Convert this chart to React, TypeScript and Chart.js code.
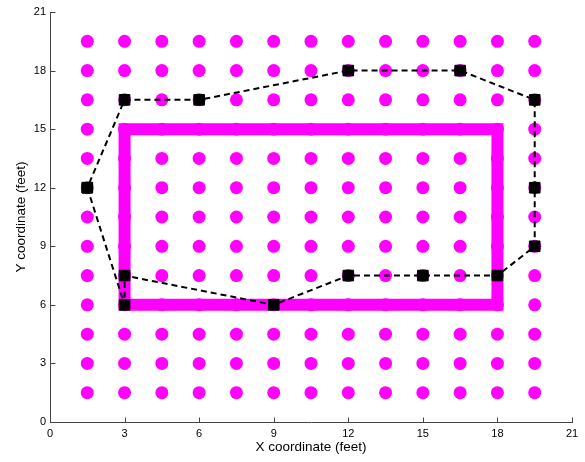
import React, { useEffect, useRef } from "react";
import { Chart, registerables } from "chart.js";

Chart.register(...registerables);

// Sensor grid (magenta dots)
const gridX = [1.5, 3, 4.5, 6, 7.5, 9, 10.5, 12, 13.5, 15, 16.5, 18, 19.5];
const gridY = [1.5, 3, 4.5, 6, 7.5, 9, 10.5, 12, 13.5, 15, 16.5, 18, 19.5];

// Rectangle outline (thick magenta)
const rectX = [3, 18, 18, 3, 3];
const rectY = [6, 6, 15, 15, 6];

// Dashed black boundary with square markers
const pathX = [1.5, 3, 3, 9, 12, 15, 18, 19.5, 19.5, 19.5, 16.5, 12, 6, 3, 1.5];
const pathY = [12, 6, 7.5, 6, 7.5, 7.5, 7.5, 9, 12, 16.5, 18, 18, 16.5, 16.5, 12];

const axisTicks = [0, 3, 6, 9, 12, 15, 18, 21];

const MAGENTA = "#ff00ff";
const AXIS_COLOR = "#444444";
const FONT = "'Liberation Sans', Arial, Helvetica, sans-serif";

const inwardTicks = {
  id: "inwardTicks",
  afterDraw(chart: any) {
    const { ctx, chartArea, scales } = chart;
    ctx.save();
    ctx.strokeStyle = AXIS_COLOR;
    ctx.lineWidth = 1;
    ctx.beginPath();
    const bottom = Math.round(chartArea.bottom) + 0.5;
    const left = Math.round(chartArea.left) + 0.5;
    axisTicks.forEach((v) => {
      const px = Math.round(scales.x.getPixelForValue(v)) + 0.5;
      ctx.moveTo(px, bottom);
      ctx.lineTo(px, bottom - 5);
      const py = Math.round(scales.y.getPixelForValue(v)) + 0.5;
      ctx.moveTo(left, py);
      ctx.lineTo(left + 5, py);
    });
    ctx.stroke();
    ctx.restore();
  },
};

export default function App() {
  const canvasRef = useRef<HTMLCanvasElement | null>(null);

  useEffect(() => {
    document.body.style.margin = "0";
    const canvas = canvasRef.current;
    if (!canvas) return;

    const dots: { x: number; y: number }[] = [];
    gridY.forEach((y) => gridX.forEach((x) => dots.push({ x, y })));
    const rect = rectX.map((x, i) => ({ x, y: rectY[i] }));
    const path = pathX.map((x, i) => ({ x, y: pathY[i] }));

    const chart = new Chart(canvas, {
      type: "scatter",
      data: {
        datasets: [
          {
            data: path,
            showLine: true,
            borderColor: "#000000",
            borderWidth: 2,
            borderDash: [6, 4],
            pointStyle: "rect",
            pointRadius: 7.5,
            pointBorderWidth: 1,
            pointBackgroundColor: "#000000",
            pointBorderColor: "#000000",
            order: 0,
          },
          {
            data: rect,
            showLine: true,
            borderColor: MAGENTA,
            borderWidth: 12,
            borderCapStyle: "square",
            borderJoinStyle: "miter",
            pointRadius: 0,
            order: 1,
          },
          {
            data: dots,
            showLine: false,
            pointStyle: "circle",
            pointRadius: 6.5,
            pointBorderWidth: 0,
            pointBackgroundColor: MAGENTA,
            pointBorderColor: MAGENTA,
            order: 2,
          },
        ] as any,
      },
      options: {
        animation: false,
        responsive: true,
        maintainAspectRatio: false,
        layout: { padding: { left: 0, right: 13, top: 12, bottom: 0 } },
        plugins: {
          legend: { display: false },
          tooltip: { enabled: false },
        },
        events: [],
        scales: {
          x: {
            type: "linear",
            min: 0,
            max: 21,
            afterFit: (s: any) => {
              s.height = 40;
            },
            afterBuildTicks: (s: any) => {
              s.ticks = axisTicks.map((v) => ({ value: v }));
            },
            ticks: {
              padding: 5,
              color: "#000000",
              font: { family: FONT, size: 11 },
              maxRotation: 0,
            },
            grid: { drawOnChartArea: false, drawTicks: false },
            border: { display: true, color: AXIS_COLOR, width: 1 },
            title: {
              display: true,
              text: "X coordinate (feet)",
              color: "#000000",
              font: { family: FONT, size: 13.5 },
              padding: { top: 0, bottom: 7 },
            },
          },
          y: {
            type: "linear",
            min: 0,
            max: 21,
            afterFit: (s: any) => {
              s.width = 50;
            },
            afterBuildTicks: (s: any) => {
              s.ticks = axisTicks.map((v) => ({ value: v }));
            },
            ticks: {
              padding: 4,
              color: "#000000",
              font: { family: FONT, size: 11 },
            },
            grid: { drawOnChartArea: false, drawTicks: false },
            border: { display: true, color: AXIS_COLOR, width: 1 },
            title: {
              display: true,
              text: "Y coordinate (feet)",
              color: "#000000",
              font: { family: FONT, size: 13.5 },
              padding: { top: 13, bottom: 0 },
            },
          },
        },
      },
      plugins: [inwardTicks],
    });

    return () => chart.destroy();
  }, []);

  return (
    <div style={{ position: "relative", width: 585, height: 462 }}>
      <canvas ref={canvasRef} />
    </div>
  );
}
